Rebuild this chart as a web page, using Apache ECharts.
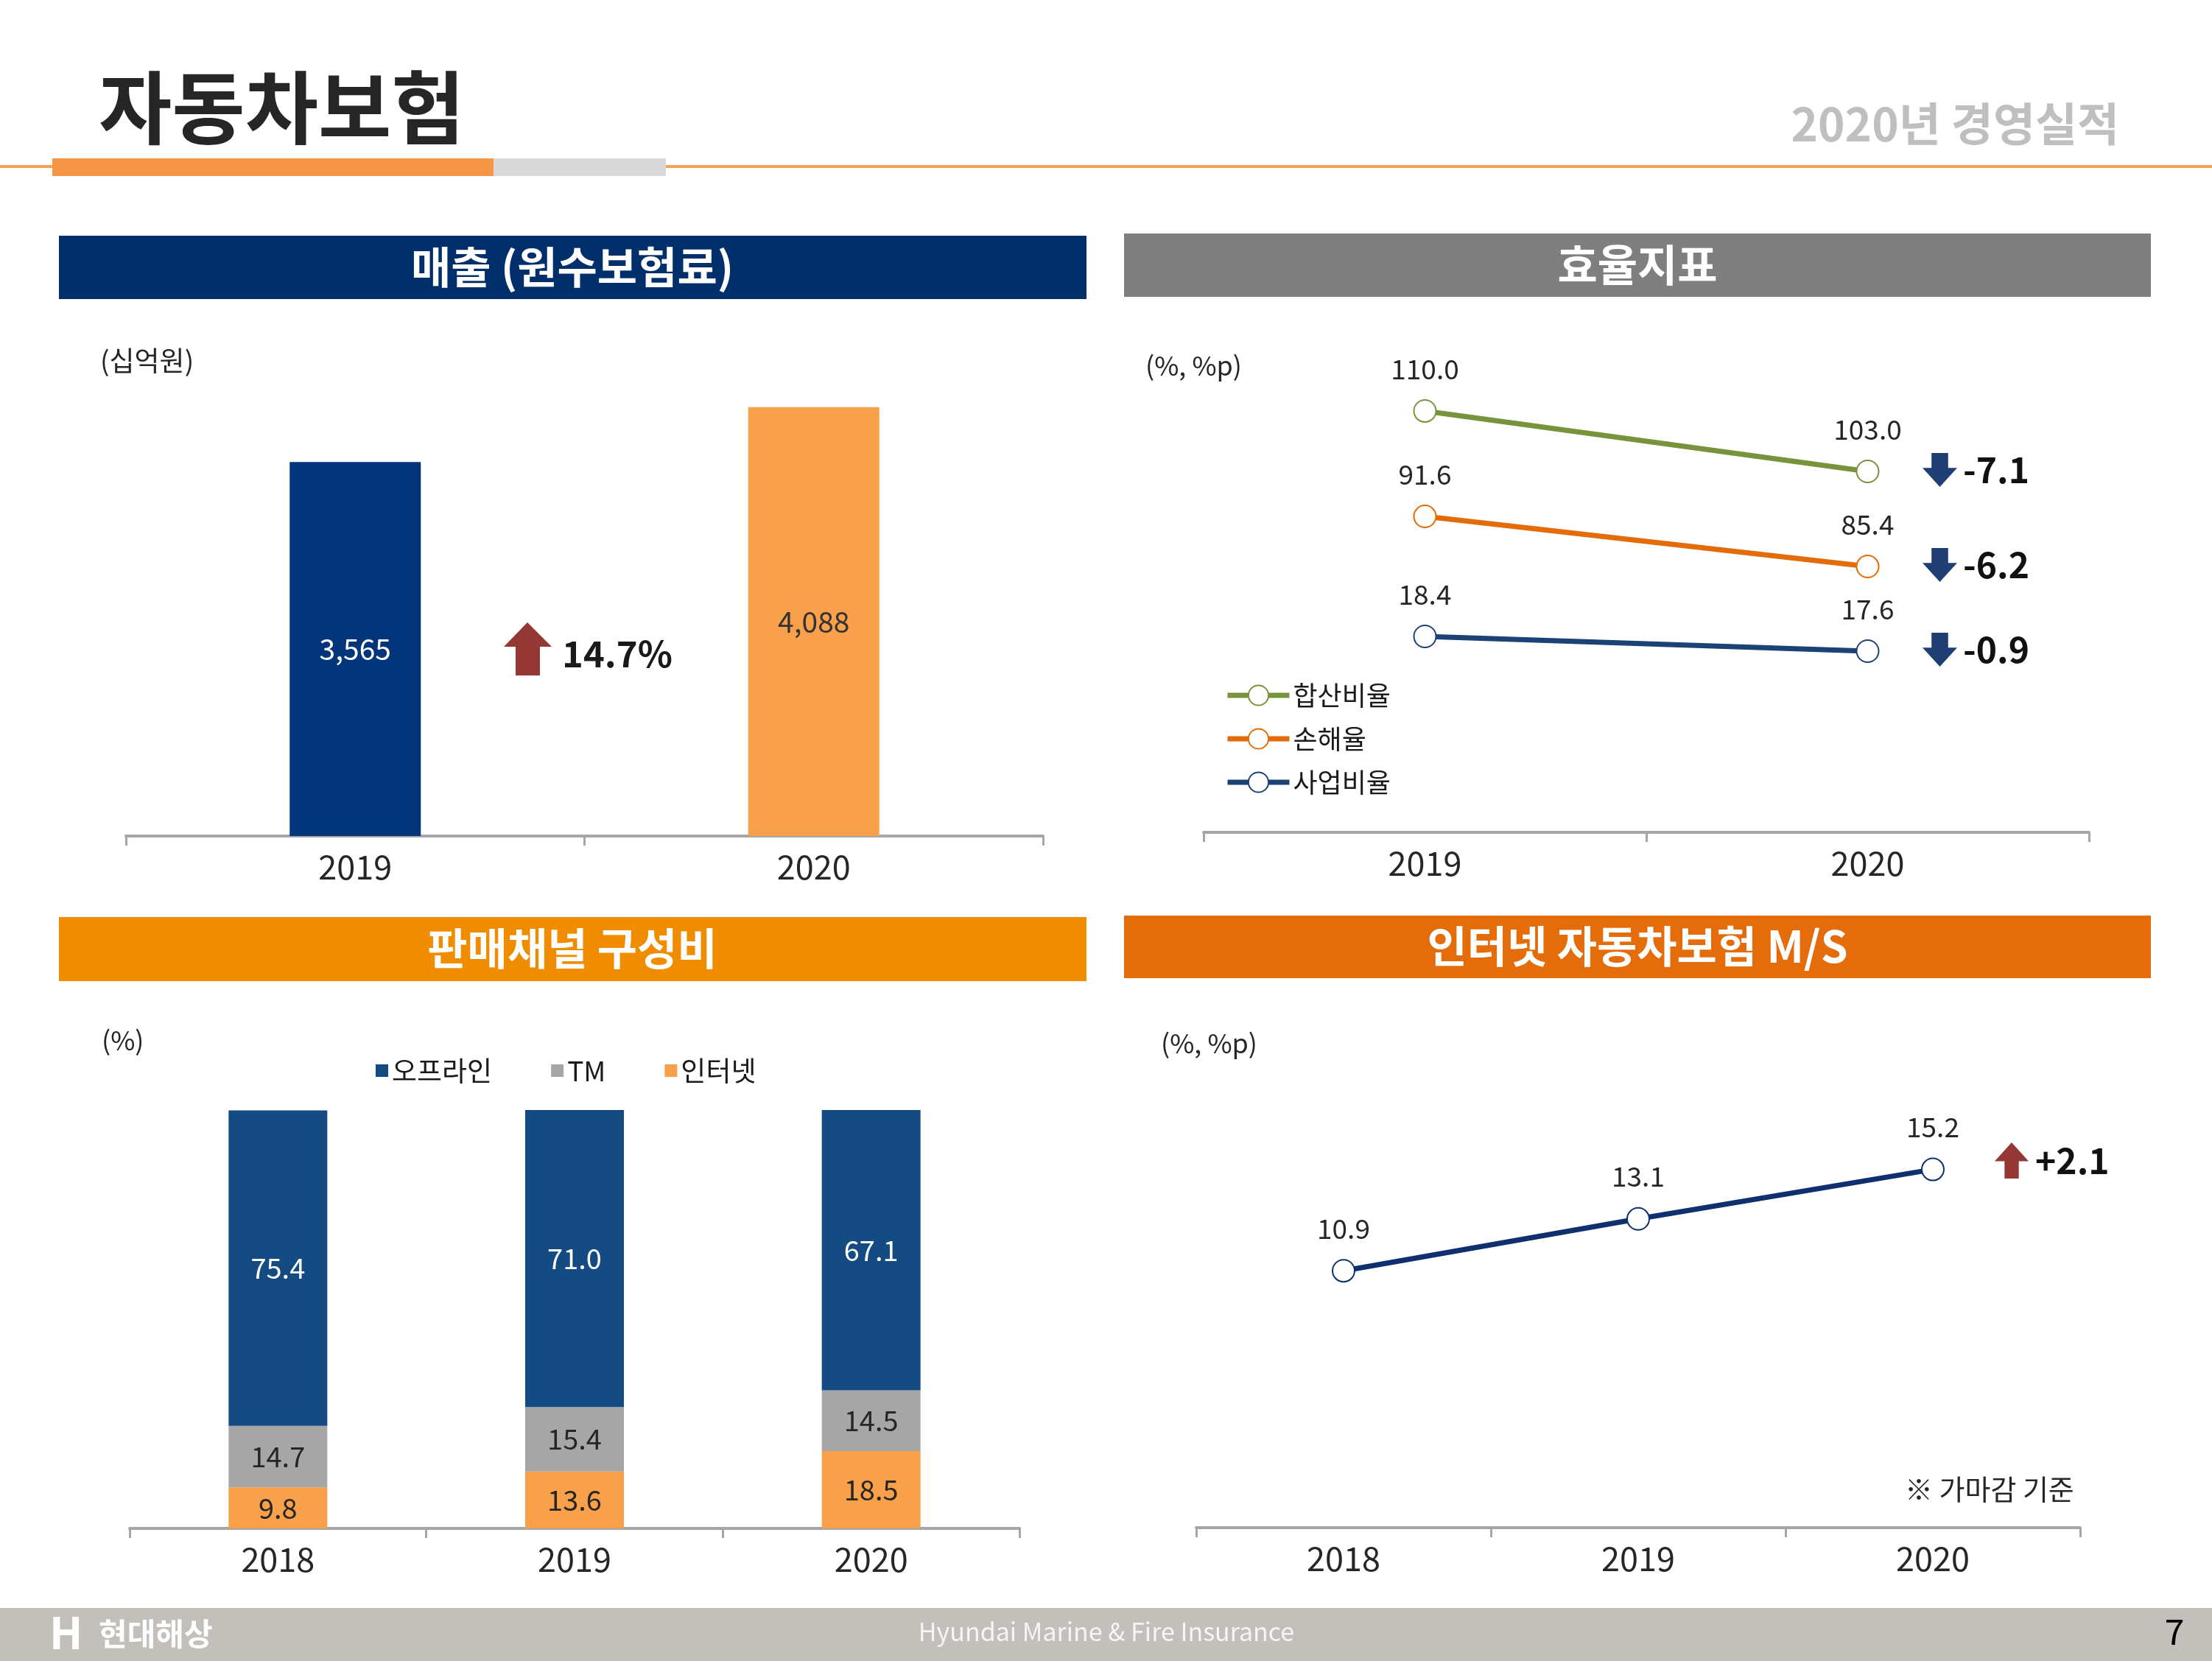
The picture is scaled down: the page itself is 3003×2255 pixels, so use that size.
<!DOCTYPE html>
<html><head><meta charset="utf-8">
<script src="https://cdn.jsdelivr.net/npm/echarts@6/dist/echarts.min.js"></script>
<style>html,body{margin:0;padding:0;background:#ffffff;} #c{width:3003px;height:2255px;}</style>
</head><body><div id="c"></div>
<script>
// ---------- data ----------
const salesYears = ['2019', '2020'];
const salesValues = [3565, 4088];
const salesGrowth = '14.7%';

const ratioYears = ['2019', '2020'];
const ratioNames = ['합산비율', '손해율', '사업비율'];
const combinedRatio = [110.0, 103.0];
const lossRatio = [91.6, 85.4];
const expenseRatio = [18.4, 17.6];
const ratioDeltas = ['-7.1', '-6.2', '-0.9'];

const channelYears = ['2018', '2019', '2020'];
const channelNames = ['오프라인', 'TM', '인터넷'];
const offlineShare = [75.4, 71.0, 67.1];
const tmShare = [14.7, 15.4, 14.5];
const internetShare = [9.8, 13.6, 18.5];

const msYears = ['2018', '2019', '2020'];
const internetMS = [10.9, 13.1, 15.2];
const msDelta = '+2.1';

// ---------- styles ----------
const FONT = '"Noto Sans CJK KR", "Noto Sans", sans-serif';
const salesColors = ['#03357a', '#f9a04b'];
const salesLabelColors = ['#ffffff', '#333333'];
const ratioColors = ['#77933c', '#e36c09', '#1c4275'];
const channelColors = { '오프라인': '#134b82', 'TM': '#a6a6a6', '인터넷': '#f9a04b' };
const msColor = '#0f2f6e';
const DOWN = 'path://M2.6,0L7.4,0L7.4,4.4L10,4.4L5,10L0,4.4L2.6,4.4Z';
const UP = 'path://M5,0L10,5.2L7.1,5.2L7.1,10L2.9,10L2.9,5.2L0,5.2Z';

function catAxis(grid, data) {
  return {
    type: 'category', gridIndex: grid, data: data, boundaryGap: true,
    axisLine: { show: true, lineStyle: { color: '#a6a6a6', width: 4 } },
    axisTick: { show: true, length: 13, lineStyle: { color: '#a6a6a6', width: 3 } },
    axisLabel: { fontSize: 45, color: '#262626', margin: 19, fontFamily: FONT },
    splitLine: { show: false }
  };
}
function valAxis(grid, min, max) {
  return { type: 'value', gridIndex: grid, min: min, max: max, show: false };
}
function txt(x, y, text, size, opts) {
  return {
    type: 'text', x: x, y: y, silent: true,
    style: Object.assign({
      text: text, fontSize: size, fontFamily: FONT, fill: '#262626',
      verticalAlign: 'middle', align: 'left'
    }, opts || {})
  };
}
function rect(x, y, w, h, fill) {
  return { type: 'rect', silent: true, shape: { x: x, y: y, width: w, height: h }, style: { fill: fill } };
}

const ratioData = [combinedRatio, lossRatio, expenseRatio];
const ratioSeries = ratioData.map(function (vals, i) {
  const c = ratioColors[i];
  return {
    type: 'line', name: ratioNames[i], xAxisIndex: 1, yAxisIndex: 1 + i,
    data: vals, symbol: 'emptyCircle', symbolSize: 30,
    lineStyle: { width: 7, color: c }, itemStyle: { color: c, borderWidth: 5 },
    label: { show: true, position: 'top', distance: 23, fontSize: 37, color: '#262626', fontFamily: FONT,
      formatter: function (p) { return p.value.toFixed(1); } },
    markPoint: {
      symbol: DOWN, symbolSize: [47, 46], symbolOffset: [98, -2],
      itemStyle: { color: '#1f3f74' },
      label: { show: true, position: 'right', distance: 8, formatter: ratioDeltas[i],
        fontSize: 48, fontWeight: 'bold', color: '#111111', fontFamily: FONT },
      data: [{ coord: [ratioYears[1], vals[1]] }]
    }
  };
});

const channelSeries = [
  ['인터넷', internetShare, '#262626'],
  ['TM', tmShare, '#262626'],
  ['오프라인', offlineShare, '#ffffff']
].map(function (d) {
  return {
    type: 'bar', name: d[0], stack: 'ch', xAxisIndex: 2, yAxisIndex: 4,
    data: d[1], barWidth: 134, itemStyle: { color: channelColors[d[0]] },
    label: { show: true, position: 'inside', fontSize: 38, color: d[2], fontFamily: FONT,
      formatter: function (p) { return p.value.toFixed(1); } }
  };
});

const option = {
  backgroundColor: '#ffffff',
  animation: false,
  textStyle: { fontFamily: FONT },
  grid: [
    { left: 171, top: 423, width: 1245, height: 712 },
    { left: 1634, top: 442, width: 1202, height: 688 },
    { left: 176, top: 1507, width: 1208, height: 568 },
    { left: 1624, top: 1434, width: 1200, height: 640 }
  ],
  xAxis: [catAxis(0, salesYears), catAxis(1, ratioYears), catAxis(2, channelYears), catAxis(3, msYears)],
  yAxis: [
    valAxis(0, 0, 5000),
    valAxis(1, 61.17, 119.9),
    valAxis(1, 52.49, 115.22),
    valAxis(1, 7.76, 35.28),
    valAxis(2, 0, 100),
    valAxis(3, 0, 20)
  ],
  legend: [
    { data: ratioNames, orient: 'vertical', left: 1658, top: 919, itemWidth: 84, itemHeight: 34,
      itemGap: 19, selectedMode: false,
      lineStyle: { width: 7 }, itemStyle: { borderWidth: 5 },
      textStyle: { fontSize: 36, lineHeight: 40, color: '#1a1a1a', fontFamily: FONT } },
    { data: channelNames, orient: 'horizontal', left: 505, top: 1430, icon: 'rect',
      itemWidth: 17, itemHeight: 17, itemGap: 80, selectedMode: false,
      textStyle: { fontSize: 37, color: '#1a1a1a', fontFamily: FONT } }
  ],
  series: [
    {
      type: 'bar', xAxisIndex: 0, yAxisIndex: 0, barWidth: 178,
      data: salesValues.map(function (v, i) {
        return { value: v, itemStyle: { color: salesColors[i] }, label: { color: salesLabelColors[i] } };
      }),
      label: { show: true, position: 'inside', fontSize: 39, fontFamily: FONT,
        formatter: function (p) { return p.value.toLocaleString('en-US'); } }
    }
  ].concat(ratioSeries, channelSeries, [
    {
      type: 'line', name: 'M/S', xAxisIndex: 3, yAxisIndex: 5, data: internetMS,
      symbol: 'emptyCircle', symbolSize: 30,
      lineStyle: { width: 7, color: msColor }, itemStyle: { color: msColor, borderWidth: 5 },
      label: { show: true, position: 'top', distance: 23, fontSize: 37, color: '#262626', fontFamily: FONT,
        formatter: function (p) { return p.value.toFixed(1); } },
      markPoint: {
        symbol: UP, symbolSize: [46, 49], symbolOffset: [107, -12],
        itemStyle: { color: '#953735' },
        label: { show: true, position: 'right', distance: 9, formatter: msDelta,
          fontSize: 48, fontWeight: 'bold', color: '#111111', fontFamily: FONT },
        data: [{ coord: [msYears[2], internetMS[2]] }]
      }
    }
  ]),
  graphic: [
    // page title area
    txt(134, 146, '자동차보험', 108, { fontWeight: 'bold', fill: '#262626' }),
    txt(2877, 168, '2020년 경영실적', 62, { fontWeight: 'bold', fill: '#bfbfbf', align: 'right' }),
    rect(0, 224, 3003, 4, '#f4a253'),
    rect(71, 215, 599, 24, '#f79646'),
    rect(670, 215, 234, 24, '#d9d9d9'),
    // panel headers
    rect(80, 320, 1395, 86, '#002f6c'),
    txt(777, 363, '매출 (원수보험료)', 59, { fontWeight: 'bold', fill: '#ffffff', align: 'center' }),
    rect(1526, 317, 1394, 86, '#7f7f7f'),
    txt(2223, 360, '효율지표', 59, { fontWeight: 'bold', fill: '#ffffff', align: 'center' }),
    rect(80, 1245, 1395, 87, '#f08c00'),
    txt(777, 1288, '판매채널 구성비', 59, { fontWeight: 'bold', fill: '#ffffff', align: 'center' }),
    rect(1526, 1243, 1394, 85, '#e46c0a'),
    txt(2223, 1285, '인터넷 자동차보험 M/S', 59, { fontWeight: 'bold', fill: '#ffffff', align: 'center' }),
    // unit labels & notes
    txt(136, 490, '(십억원)', 37),
    txt(1555, 496, '(%, %p)', 36),
    txt(138, 1412, '(%)', 36),
    txt(1576, 1416, '(%, %p)', 36),
    txt(2586, 2022, '※ 가마감 기준', 38),
    // growth arrow (sales)
    { type: 'polygon', silent: true,
      shape: { points: [[716, 845], [749, 878], [733, 878], [733, 917], [700, 917], [700, 878], [684, 878]] },
      style: { fill: '#953735' } },
    txt(763, 887, salesGrowth, 49, { fontWeight: 'bold', fill: '#1a1a1a' }),
    // footer
    rect(0, 2183, 3003, 72, '#c3bfbb'),
    txt(67, 2216, 'H', 60, { fontWeight: 'bold', fill: '#ffffff' }),
    txt(134, 2218, '현대해상', 42, { fontWeight: 'bold', fill: '#ffffff' }),
    txt(1502, 2215, 'Hyundai Marine & Fire Insurance', 34, { fill: '#f5f5f5', align: 'center' }),
    txt(2952, 2215, '7', 48, { fill: '#000000', align: 'center' })
  ]
};

const chart = echarts.init(document.getElementById('c'), null, { renderer: 'canvas', width: 3003, height: 2255 });
chart.setOption(option);
</script>
</body></html>
